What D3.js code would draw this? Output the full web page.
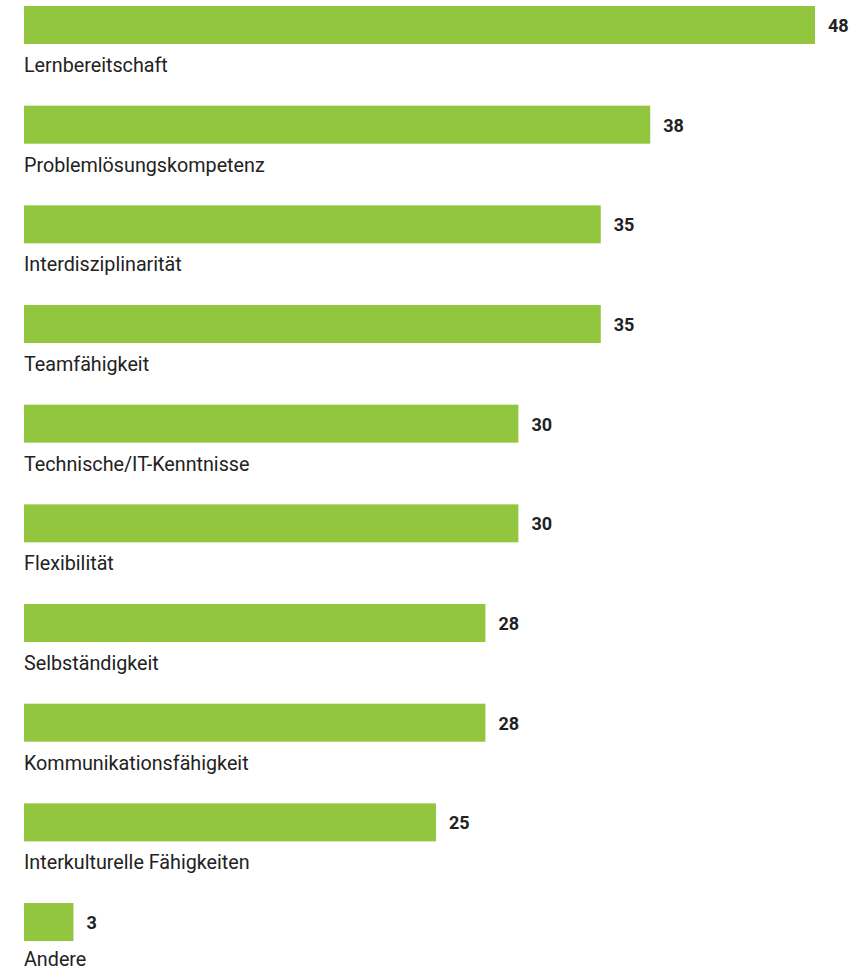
<!DOCTYPE html>
<html><head><meta charset="utf-8">
<script src="https://cdn.jsdelivr.net/npm/d3@7"></script>
<style>body{margin:0;background:#fff}</style>
</head><body>
<svg id="c" width="866" height="970"></svg>
<script>
const categories = ["Lernbereitschaft","Problemlösungskompetenz","Interdisziplinarität","Teamfähigkeit","Technische/IT-Kenntnisse","Flexibilität","Selbständigkeit","Kommunikationsfähigkeit","Interkulturelle Fähigkeiten","Andere"];
const values = [48,38,35,35,30,30,28,28,25,3];

const svg = d3.select("#c");
const x = d3.scaleLinear().domain([0,48]).range([24,815]);
const y = d3.scaleBand().domain(categories).range([6, 6+99.67*10]).paddingInner(0).paddingOuter(0);
const barH = 38;

const g = svg.selectAll("g.row").data(categories).join("g").attr("class","row");
g.append("rect")
  .attr("x", x(0))
  .attr("y", d => y(d))
  .attr("width", (d,i) => x(values[i]) - x(0))
  .attr("height", barH)
  .attr("fill", "#93c63f");
g.append("text")
  .attr("transform", (d,i) => `translate(${x(values[i]) + 13},${y(d) + barH/2 + 7}) scale(0.95,1)`)
  .attr("font-family", "Roboto, sans-serif")
  .attr("font-weight", "bold")
  .attr("font-size", 19)
  .attr("fill", "#222")
  .text((d,i) => values[i]);
g.append("text")
  .attr("transform", d => `translate(24,${Math.min(y(d) + barH + 28, 966)}) scale(0.94,1)`)
  .attr("font-family", "Roboto, sans-serif")
  .attr("font-size", 21)
  .attr("fill", "#222")
  .text(d => d);
</script>
</body></html>
